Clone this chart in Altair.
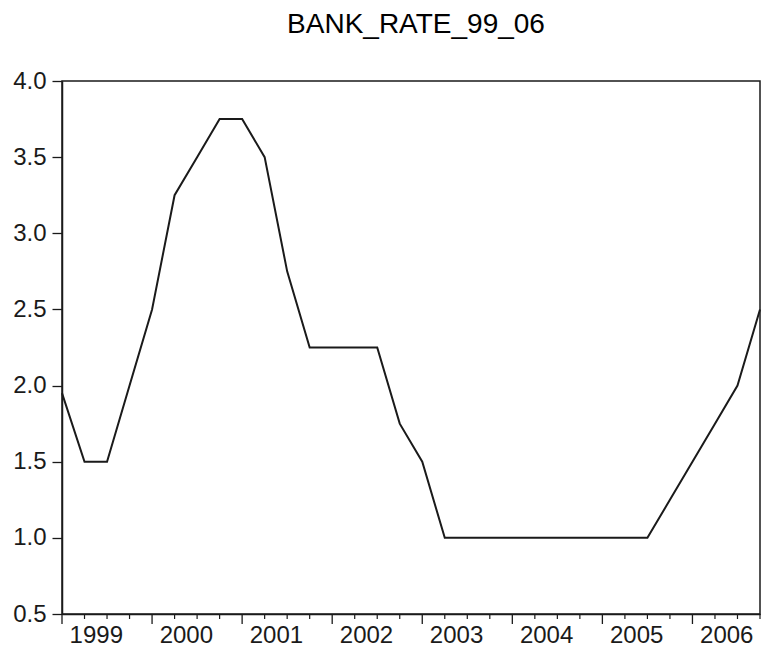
import altair as alt
import pandas as pd

# Quarterly observations 1999Q1 .. 2006Q4
years = list(range(1999, 2007))
quarters = [f"{y}Q{q}" for y in years for q in range(1, 5)]
bank_rate = [1.95, 1.5, 1.5, 2.0,
             2.5, 3.25, 3.5, 3.75,
             3.75, 3.5, 2.75, 2.25,
             2.25, 2.25, 2.25, 1.75,
             1.5, 1.0, 1.0, 1.0,
             1.0, 1.0, 1.0, 1.0,
             1.0, 1.0, 1.0, 1.25,
             1.5, 1.75, 2.0, 2.5]
y_ticks = [0.5, 1.0, 1.5, 2.0, 2.5, 3.0, 3.5, 4.0]

df = pd.DataFrame({"quarter": quarters, "t": list(range(len(quarters))), "rate": bank_rate})
df["major"] = df["t"] % 4 == 0

W, H = 698, 533
FONT = "Liberation Sans"
INK = "#1a1a1a"

label_pos = [i * 4 + 1.5 for i in range(len(years))]
x_axis = alt.Axis(values=label_pos, ticks=False, tickSize=0, domain=True, domainColor=INK,
                  domainWidth=1.5, grid=False, title=None, labelFont=FONT, labelFontSize=24,
                  labelColor=INK, labelPadding=9, labelOverlap=False, labelFlush=False,
                  labelExpr="'' + round(1999 + (datum.value - 1.5) / 4)")
x_scale = alt.Scale(domain=[0, len(quarters) - 1], nice=False, zero=False)
xenc = alt.X("t:Q", scale=x_scale, axis=x_axis)

line = alt.Chart(df).mark_line(color=INK, strokeWidth=2).encode(
    x=xenc,
    y=alt.Y("rate:Q", scale=alt.Scale(domain=[0.5, 4.0], nice=False, zero=False),
            axis=alt.Axis(values=y_ticks, format=".1f", tickSize=10, tickColor=INK, tickWidth=1.3,
                          domainColor=INK, domainWidth=1.5, grid=False, title=None,
                          labelFont=FONT, labelFontSize=24, labelColor=INK, labelPadding=6)),
)

minor_ticks = alt.Chart(df).transform_filter("!datum.major").mark_rule(color=INK, strokeWidth=1.2).encode(
    x=xenc, y=alt.value(H), y2=alt.value(H + 5))
major_ticks = alt.Chart(df).transform_filter("datum.major").mark_rule(color=INK, strokeWidth=1.3).encode(
    x=xenc, y=alt.value(H), y2=alt.value(H + 10))

chart = alt.layer(line, minor_ticks, major_ticks).properties(
    width=W, height=H,
    autosize=alt.AutoSizeParams(type="none"),
    padding={"left": 54, "top": 73, "right": 1, "bottom": 36},
    title=alt.TitleParams("BANK_RATE_99_06", font=FONT, fontSize=28, fontWeight="normal",
                          color="black", anchor="middle", offset=8, dx=5, baseline="alphabetic"),
).configure(background="white").configure_view(stroke=INK, strokeWidth=1.5)

chart.save("out.html", embed_options={"renderer": "svg", "actions": False})
